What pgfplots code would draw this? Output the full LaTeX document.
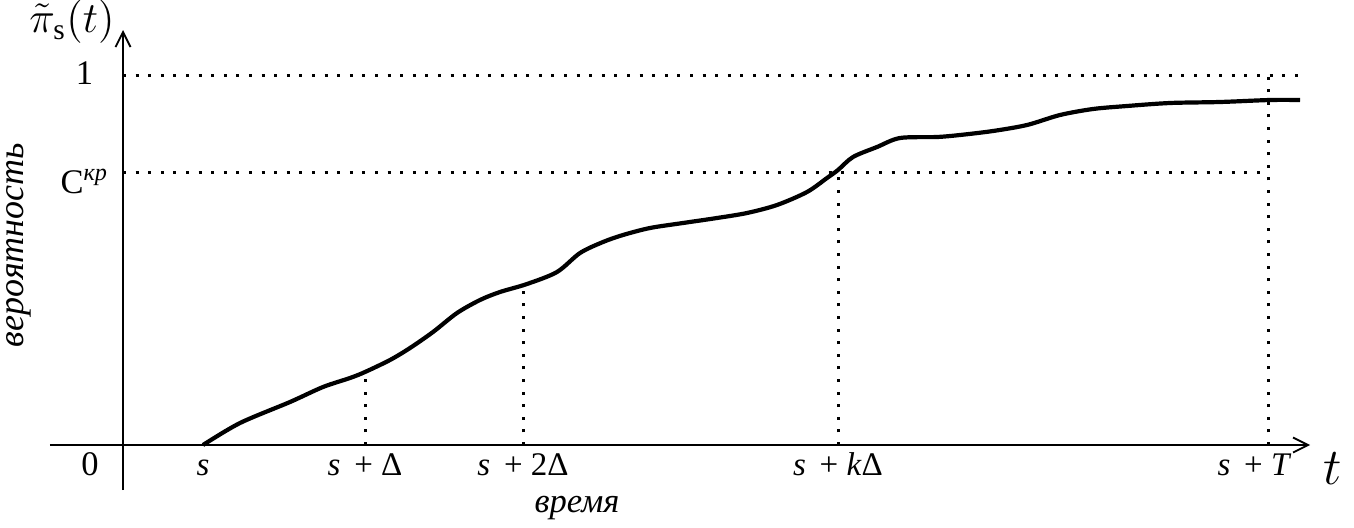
\documentclass[border=0pt]{standalone}
\usepackage{fontspec}
\setmainfont{Liberation Serif}
\usepackage{pgfplots}
\pgfplotsset{compat=1.18}
\usetikzlibrary{arrows.meta}
\begin{document}
\begin{tikzpicture}
\begin{axis}[
  x=0.33333pt, y=0.33333pt,
  xmin=-73, xmax=1187, ymin=-45, ymax=415,
  axis lines=middle,
  axis line style={line width=0.6pt, -{Straight Barb[length=5pt,width=5pt]}},
  clip=false,
  major tick length=0pt,
  xtick={80,242,400,715,1145},
  xticklabels={\textit{s}, \textit{s}\, + Δ, \textit{s}\, + 2Δ, \textit{s}\, + \textit{k}Δ, \textit{s}\, + \textit{T}\kern9pt},
  xticklabel style={anchor=base, yshift=-10.3pt, font=\fontsize{11}{13}\selectfont},
  ytick={273,370},
  yticklabels={\raisebox{-4pt}{С\textsuperscript{\textit{кр}}}, 1},
  yticklabel style={anchor=base, xshift=-12.8pt, yshift=-3.3pt, font=\fontsize{11.5}{13}\selectfont},
]
% dotted guide lines
\addplot[black, line width=1pt, dash pattern=on 1pt off 3.2pt] coordinates {(0,370) (1177,370)};
\addplot[black, line width=1pt, dash pattern=on 1pt off 3.2pt] coordinates {(0,273) (1145,273)};
\addplot[black, line width=1pt, dash pattern=on 1pt off 3.2pt] coordinates {(242,0) (242,73)};
\addplot[black, line width=1pt, dash pattern=on 1pt off 3.2pt] coordinates {(400,0) (400,160)};
\addplot[black, line width=1pt, dash pattern=on 1pt off 3.2pt] coordinates {(715,0) (715,273)};
\addplot[black, line width=1pt, dash pattern=on 1pt off 3.2pt] coordinates {(1145,0) (1145,370)};
% curve
\addplot[black, line width=1.4pt, smooth, tension=0.5] coordinates {
(80,0) (117,22) (167,43) (200,58) (227,67) (242,73) (267,85) (287,97)
(310,113) (334,132) (357,145) (377,153) (404,161) (434,173) (457,192)
(480,203) (500,210) (527,217) (560,222) (594,227) (624,232) (654,240)
(684,253) (704,267) (715,275) (730,288) (754,298) (777,307) (814,308)
(837,310) (870,314) (904,320) (937,330) (970,336) (1004,339) (1047,342)
(1097,343) (1147,345) (1177,345)};
% labels
\node[anchor=base, font=\fontsize{11.5}{13}\selectfont] at (axis cs:-33,-30) {0};
\node[font=\fontsize{14}{16}\selectfont] at (axis cs:-51,423) {$\tilde{\pi}_{\mathrm{s}}(t)$};
\node[font=\fontsize{16}{18}\selectfont] at (axis cs:1210,-24) {$t$};
\node[rotate=90, inner sep=0pt, font=\fontsize{12}{14}\selectfont\itshape] at (axis cs:-104,200) {вероятность};
\node[font=\fontsize{11.5}{14}\selectfont\itshape] at (axis cs:454,-63) {время};
\coordinate (bbBL) at (axis cs:-123,-82);
\coordinate (bbTR) at (axis cs:1231,445);
\end{axis}
\pgfresetboundingbox
\path (bbBL) rectangle (bbTR);
\end{tikzpicture}
\end{document}
